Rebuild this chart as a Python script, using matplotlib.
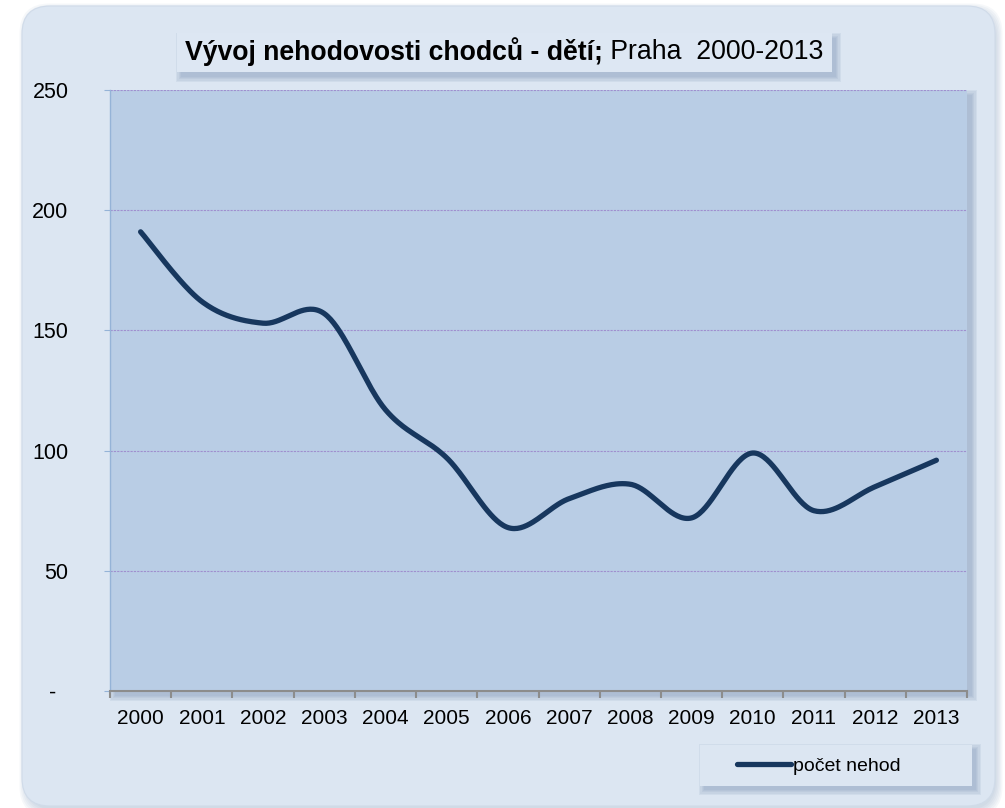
import numpy as np
import matplotlib.pyplot as plt
from matplotlib.patches import FancyBboxPatch, Rectangle

plt.rcParams['font.family'] = ['Liberation Sans', 'DejaVu Sans']

# Data
years = ['2000', '2001', '2002', '2003', '2004', '2005', '2006',
         '2007', '2008', '2009', '2010', '2011', '2012', '2013']
nehody = [191, 162, 153, 157, 117, 97, 68, 80, 86, 72, 99, 75, 85, 96]
series_name = 'počet nehod'
title_bold = 'Vývoj nehodovosti chodců - dětí;'
title_rest = ' Praha  2000-2013'
y_ticks = [0, 50, 100, 150, 200, 250]
y_labels = ['-  ', '50', '100', '150', '200', '250']

W, H = 1005, 808
fig = plt.figure(figsize=(W / 100, H / 100), dpi=100)
fig.patch.set_facecolor('white')


def fx(x):
    return x / W


def fy(y):
    return 1 - y / H


def shadow(x0, y0, x1, y1, dx=4, dy=4, layers=5, color='#7f97b8'):
    for i in range(layers):
        g = i * 1.2
        fig.patches.append(Rectangle((fx(x0 + dx - g), fy(y1 + dy + g)),
                                     (x1 - x0 + 2 * g) / W, (y1 - y0 + 2 * g) / H,
                                     transform=fig.transFigure, facecolor=color,
                                     edgecolor='none', alpha=0.12, zorder=0.5))


# outer panel with rounded corners and shadow
for i in range(6):
    g = i * 1.3
    fig.patches.append(FancyBboxPatch((fx(26 - g), fy(810 + g)), (970 + 2 * g) / W, (800 + 2 * g) / H,
                                      boxstyle='round,pad=0,rounding_size=0.03',
                                      transform=fig.transFigure, facecolor='#8fa6c6',
                                      edgecolor='none', alpha=0.08, zorder=0.1,
                                      mutation_aspect=W / H))
fig.patches.append(FancyBboxPatch((fx(22), fy(806)), 973 / W, 800 / H,
                                  boxstyle='round,pad=0,rounding_size=0.028',
                                  transform=fig.transFigure, facecolor='#dce6f2',
                                  edgecolor='#d0dbe9', linewidth=0.8, zorder=0.2,
                                  mutation_aspect=W / H))

# plot area shadow
shadow(110, 90, 967, 691, dx=5, dy=5)

ax = fig.add_axes([fx(110), fy(691), (967 - 110) / W, (691 - 90) / H])
ax.set_facecolor('#b9cde5')
ax.set_zorder(2)

# smoothed line (Excel-like Bezier through the points)
x = np.arange(len(nehody), dtype=float)
y = np.array(nehody, dtype=float)
xs, ys = [], []
t = np.linspace(0, 1, 40)
for i in range(len(x) - 1):
    p0 = np.array([x[max(i - 1, 0)], y[max(i - 1, 0)]])
    p1 = np.array([x[i], y[i]])
    p2 = np.array([x[i + 1], y[i + 1]])
    p3 = np.array([x[min(i + 2, len(x) - 1)], y[min(i + 2, len(x) - 1)]])
    c1 = p1 + (p2 - p0) / 6
    c2 = p2 - (p3 - p1) / 6
    pts = ((1 - t)[:, None] ** 3 * p1 + 3 * ((1 - t) ** 2 * t)[:, None] * c1
           + 3 * ((1 - t) * t ** 2)[:, None] * c2 + (t ** 3)[:, None] * p2)
    xs.extend(pts[:, 0])
    ys.extend(pts[:, 1])
line, = ax.plot(xs, ys, color='#17375e', linewidth=3.8, solid_capstyle='round',
                solid_joinstyle='round', label=series_name, zorder=3)

ax.set_xlim(-0.5, len(years) - 0.5)
ax.set_ylim(0, 250)

# y axis
ax.set_yticks(y_ticks)
ax.set_yticklabels(y_labels)
ax.yaxis.grid(True, color='#a08fcf', linestyle=(0, (2, 1)), linewidth=0.8)
ax.set_axisbelow(True)
ax.tick_params(axis='y', length=4.3, width=0.8, color='#95b3d7', labelsize=15.5,
               pad=25.5, labelcolor='black')
for lbl in ax.get_yticklabels():
    lbl.set_horizontalalignment('right')

# x axis
ax.set_xticks(x)
ax.set_xticklabels(years)
ax.set_xticks(np.arange(-0.5, len(years), 1.0), minor=True)
ax.tick_params(axis='x', which='major', length=0, labelsize=15, pad=13)
ax.tick_params(axis='x', which='minor', length=5, width=1.5, color='#8c8c8c')

for s in ['top', 'right']:
    ax.spines[s].set_visible(False)
ax.spines['left'].set_color('#95b3d7')
ax.spines['left'].set_linewidth(1.0)
ax.spines['bottom'].set_color('#8c8c8c')
ax.spines['bottom'].set_linewidth(1.5)

# title box
shadow(177, 33, 832, 72, dx=4, dy=5)
fig.patches.append(Rectangle((fx(177), fy(72)), (832 - 177) / W, 39 / H,
                             transform=fig.transFigure, facecolor='#dde7f3',
                             edgecolor='none', zorder=1))
t1 = fig.text(fx(185), fy(52), title_bold, fontsize=19.2, fontweight='bold',
              ha='left', va='center', zorder=3)
fig.canvas.draw()
bb = t1.get_window_extent(renderer=fig.canvas.get_renderer())
fig.text(bb.x1 / W, fy(52), title_rest, fontsize=19.2, ha='left', va='center', zorder=3)

# legend box
shadow(700, 745, 972, 786, dx=4, dy=4)
fig.patches.append(Rectangle((fx(700), fy(786)), 272 / W, 41 / H,
                             transform=fig.transFigure, facecolor='#dce6f2',
                             edgecolor='none', zorder=1))
leg = fig.legend(handles=[line], loc='center left', bbox_to_anchor=(fx(737), fy(766)),
                 frameon=False, fontsize=14, handlelength=2.8, handletextpad=0.1,
                 borderpad=0, borderaxespad=0)

fig.savefig('out.png', dpi=100, facecolor=fig.get_facecolor())
